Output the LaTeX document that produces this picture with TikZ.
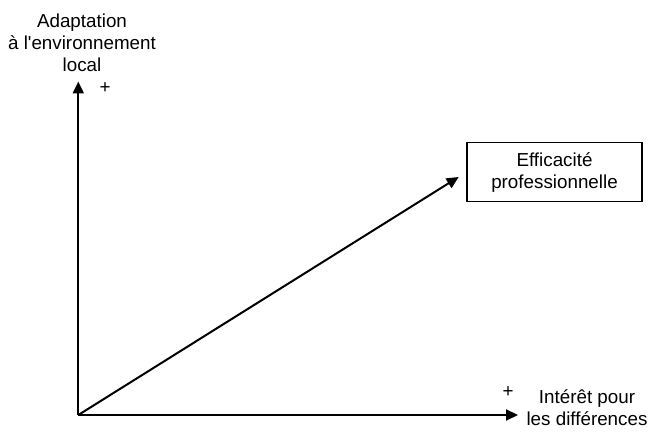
\documentclass[tikz,border=0pt]{standalone}
\usepackage{fontspec}
\setmainfont{Liberation Sans}
\usetikzlibrary{arrows.meta}
\begin{document}
\begin{tikzpicture}[x=1pt,y=1pt,
  lbl/.style={align=center,inner sep=0pt,font=\fontsize{18.8}{22}\selectfont},
  axis/.style={line width=2pt,-{Triangle[width=11pt,length=12pt]}},
  boxnode/.style={draw,line width=1.4pt,minimum width=175pt,minimum height=59pt,inner sep=0pt,align=center,font=\fontsize{18.8}{22}\selectfont}]
\useasboundingbox (0,0) rectangle (650,431);
\coordinate (O) at (78.3,16);
\coordinate (Ytip) at (78.3,349.5);
\coordinate (Xtip) at (518,16);
\node[boxnode] (box) at (554.5,258.8) {Efficacit\'e\\professionnelle};
\node[lbl] (ylab) at (82,388) {Adaptation\\\`a l\textquotesingle environnement\\local};
\node[lbl] (xlab) at (587,23) {Int\'er\^et pour\\les diff\'erences};
\node[lbl] (yplus) at (105,343) {+};
\node[lbl] (xplus) at (508,39) {+};
\draw[axis] (O) -- (Ytip);
\draw[axis] (O) -- (Xtip);
\draw[axis,shorten >=9pt] (O) -- (box.west);
\end{tikzpicture}
\end{document}
